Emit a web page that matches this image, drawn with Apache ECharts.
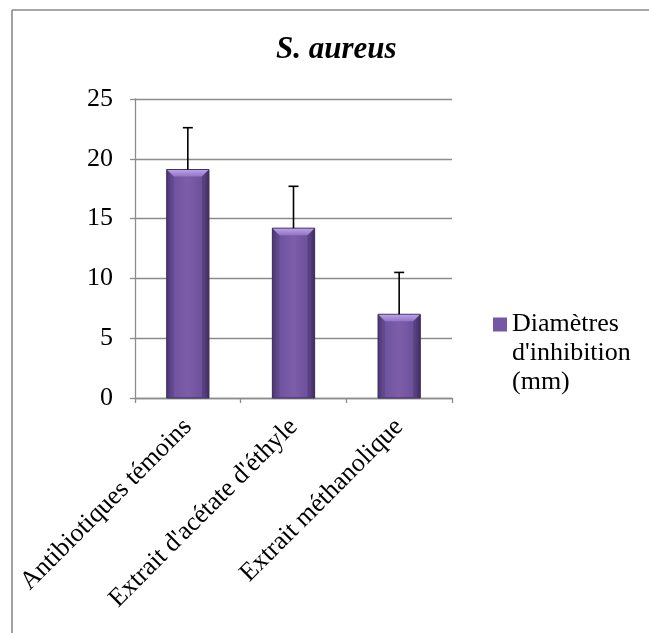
<!DOCTYPE html>
<html>
<head>
<meta charset="utf-8">
<style>
  html, body { margin: 0; padding: 0; background: #ffffff; }
  #chart { width: 649px; height: 633px; }
</style>
<script src="https://cdn.jsdelivr.net/npm/echarts@6/dist/echarts.min.js"></script>
</head>
<body>
<div id="chart"></div>
<script>
// Inhibition zone diameters against S. aureus
const categories = ["Antibiotiques témoins", "Extrait d'acétate d'éthyle", "Extrait méthanolique"];
const diameters = [19.1, 14.2, 7.0];
const errors = [3.5, 3.5, 3.5];
const yTicks = { min: 0, max: 25, step: 5 };
const seriesName = "Diamètres d'inhibition (mm)";
const legendLines = ["Diamètres", "d'inhibition", "(mm)"];

const FONT = "Liberation Serif, Times New Roman, serif";
const GRID_COLOR = '#8c8c8c';

const chart = echarts.init(document.getElementById('chart'), null, { renderer: 'canvas' });

// bevelled column: gradient body plus a lighter top facet
function renderBar(params, api) {
  const idx = api.value(0);
  const val = api.value(1);
  const top = api.coord([idx, val]);
  const base = api.coord([idx, 0]);
  const bandW = api.size([1, 0])[0];
  const w = bandW * 0.40;
  const x = top[0] - w / 2;
  const y = top[1];
  const h = base[1] - top[1];
  const bev = 7;
  return {
    type: 'group',
    children: [
      {
        type: 'rect',
        shape: { x: x, y: y, width: w, height: h },
        style: {
          fill: new echarts.graphic.LinearGradient(0, 0, 1, 0, [
            { offset: 0, color: '#4f3a78' },
            { offset: 0.12, color: '#6e529c' },
            { offset: 0.5, color: '#7c5daa' },
            { offset: 0.88, color: '#6b4f98' },
            { offset: 1, color: '#46336a' }
          ]),
          stroke: '#3a2a58',
          lineWidth: 1
        }
      },
      {
        type: 'polygon',
        shape: { points: [[x + 0.5, y + 0.5], [x + w - 0.5, y + 0.5], [x + w - bev, y + bev], [x + bev, y + bev]] },
        style: {
          fill: new echarts.graphic.LinearGradient(0, 0, 0, 1, [
            { offset: 0, color: '#b9a2e6' },
            { offset: 1, color: '#9274c8' }
          ])
        }
      },
      {
        type: 'polygon',
        shape: { points: [[x + 0.5, y + 0.5], [x + bev, y + bev], [x + bev, base[1] - 1], [x + 0.5, base[1] - 1]] },
        style: { fill: 'rgba(40,25,70,0.18)' }
      },
      {
        type: 'polygon',
        shape: { points: [[x + w - 0.5, y + 0.5], [x + w - bev, y + bev], [x + w - bev, base[1] - 1], [x + w - 0.5, base[1] - 1]] },
        style: { fill: 'rgba(30,18,55,0.25)' }
      }
    ]
  };
}

// upper error whisker with a cap
function renderError(params, api) {
  const idx = api.value(0);
  const val = api.value(1);
  const err = api.value(2);
  const p0 = api.coord([idx, val]);
  const p1 = api.coord([idx, val + err]);
  const cap = 5;
  return {
    type: 'group',
    children: [
      { type: 'line', shape: { x1: p0[0], y1: p0[1], x2: p1[0], y2: p1[1] }, style: { stroke: '#000', lineWidth: 1.6 } },
      { type: 'line', shape: { x1: p1[0] - cap, y1: p1[1], x2: p1[0] + cap, y2: p1[1] }, style: { stroke: '#000', lineWidth: 1.6 } }
    ]
  };
}

const barData = categories.map((c, i) => [i, diameters[i]]);
const errData = categories.map((c, i) => [i, diameters[i], errors[i]]);

chart.setOption({
  animation: false,
  backgroundColor: '#ffffff',
  title: {
    text: 'S. aureus',
    left: 276,
    top: 34,
    padding: 0,
    textStyle: { fontFamily: FONT, fontSize: 31, fontWeight: 'bold', fontStyle: 'italic', color: '#000' }
  },
  legend: {
    data: [{ name: seriesName, icon: 'rect' }],
    left: 493,
    top: 252,
    padding: 0,
    itemWidth: 14,
    itemHeight: 14,
    // two blank lines above keep the first text line level with the swatch
    formatter: () => '\n\n' + legendLines.join('\n'),
    textStyle: { fontFamily: FONT, fontSize: 26, color: '#000', lineHeight: 29 },
    selectedMode: false
  },
  grid: { left: 135, right: 197, top: 99, bottom: 235, containLabel: false },
  xAxis: {
    type: 'category',
    data: categories,
    boundaryGap: true,
    axisLine: { show: true, lineStyle: { color: GRID_COLOR, width: 1.3 } },
    axisTick: { show: true, alignWithLabel: false, length: 5, lineStyle: { color: GRID_COLOR, width: 1.3 } },
    axisLabel: { rotate: 45, margin: 25, fontFamily: FONT, fontSize: 26, color: '#000', interval: 0 },
    splitLine: { show: false }
  },
  yAxis: {
    type: 'value',
    min: yTicks.min,
    max: yTicks.max,
    interval: yTicks.step,
    axisLine: { show: true, lineStyle: { color: GRID_COLOR, width: 1.3 } },
    axisTick: { show: true, length: 5, lineStyle: { color: GRID_COLOR, width: 1.3 } },
    axisLabel: { margin: 22, fontFamily: FONT, fontSize: 26, color: '#000' },
    splitLine: { show: true, lineStyle: { color: GRID_COLOR, width: 1.3 } }
  },
  series: [
    {
      name: seriesName,
      type: 'custom',
      renderItem: renderBar,
      data: barData,
      encode: { x: 0, y: 1 },
      itemStyle: { color: '#7656a6' },
      z: 2
    },
    {
      name: 'erreur',
      type: 'custom',
      renderItem: renderError,
      data: errData,
      encode: { x: 0, y: [1, 2] },
      z: 3
    }
  ],
  graphic: [
    { type: 'line', shape: { x1: 12, y1: 10, x2: 649, y2: 10 }, style: { stroke: '#8a8a8a', lineWidth: 1.6 }, silent: true },
    { type: 'line', shape: { x1: 12, y1: 10, x2: 12, y2: 633 }, style: { stroke: '#8a8a8a', lineWidth: 1.6 }, silent: true }
  ]
});
</script>
</body>
</html>
